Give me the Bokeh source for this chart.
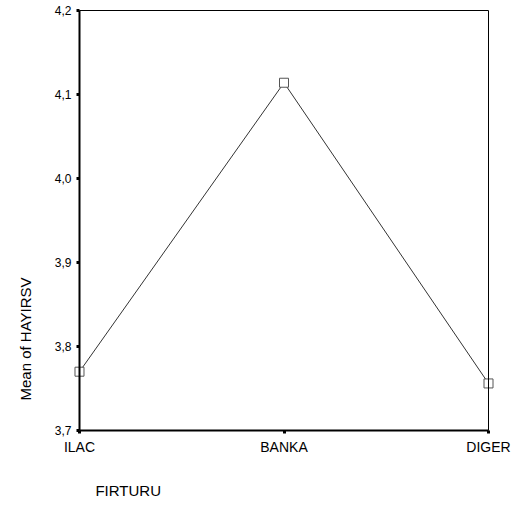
import math
from bokeh.plotting import figure
from bokeh.models import Range1d, Label, FixedTicker, LinearAxis
from bokeh.embed import file_html
from bokeh.resources import INLINE

categories = ["ILAC", "BANKA", "DIGER"]
means = [3.770, 4.114, 3.756]
y_ticks = [3.7, 3.8, 3.9, 4.0, 4.1, 4.2]
y_tick_labels = ["3,7", "3,8", "3,9", "4,0", "4,1", "4,2"]
y_lo, y_hi = 3.7, 4.2

xs = list(range(len(categories)))
x_last = len(categories) - 1

# the frame covers the whole canvas; axes are drawn at fixed data locations
p = figure(width=515, height=505, output_backend="svg", toolbar_location=None,
           x_range=Range1d(-0.3863, x_last + 0.132), y_range=Range1d(3.6107, 4.2119),
           x_axis_location=None, y_axis_location=None,
           min_border_left=0, min_border_right=0, min_border_top=0, min_border_bottom=0)
p.background_fill_color = "white"
p.border_fill_color = "white"
p.outline_line_color = None
p.grid.visible = False

p.line(xs, means, line_color="#333333", line_width=1)
p.scatter(xs, means, marker="square", size=9, fill_color="white", line_color="#555555", line_width=1)

font = "Liberation Sans"

def style(ax, width, size):
    ax.axis_line_width = width
    ax.axis_line_color = "black"
    ax.major_tick_line_width = 3
    ax.major_tick_line_color = "black"
    ax.major_tick_out = 3
    ax.major_tick_in = 0
    ax.minor_tick_line_color = None
    ax.major_label_text_font = font
    ax.major_label_text_font_size = size
    ax.major_label_text_color = "black"

xaxis = LinearAxis(ticker=FixedTicker(ticks=xs), bounds=(0, x_last), fixed_location=y_lo,
                   major_label_overrides={i: c for i, c in zip(xs, categories)})
style(xaxis, 2, "14px")
xaxis.major_label_standoff = 6
p.add_layout(xaxis, "below")

yaxis = LinearAxis(ticker=FixedTicker(ticks=y_ticks), bounds=(y_lo, y_hi), fixed_location=0,
                   major_label_overrides={t: l for t, l in zip(y_ticks, y_tick_labels)})
style(yaxis, 2, "12px")
yaxis.major_label_standoff = 5
p.add_layout(yaxis, "left")

top = LinearAxis(ticker=FixedTicker(ticks=[]), bounds=(0, x_last), fixed_location=y_hi,
                 major_label_text_font_size="0px")
right = LinearAxis(ticker=FixedTicker(ticks=[]), bounds=(y_lo, y_hi), fixed_location=x_last,
                   major_label_text_font_size="0px")
for b, side in ((top, "above"), (right, "right")):
    b.axis_line_width = 1
    b.axis_line_color = "black"
    b.major_tick_line_color = None
    b.minor_tick_line_color = None
    p.add_layout(b, side)

p.add_layout(Label(x=0.078, y=3.6286, text="FIRTURU", text_font=font, text_font_size="15px",
                   text_align="left", text_baseline="middle", text_color="black"))
p.add_layout(Label(x=-0.264, y=3.7357, text="Mean of HAYIRSV", text_font=font, text_font_size="15px",
                   text_align="left", text_baseline="middle", angle=math.pi / 2, text_color="black"))

open("out.html", "w").write(file_html(p, INLINE))
